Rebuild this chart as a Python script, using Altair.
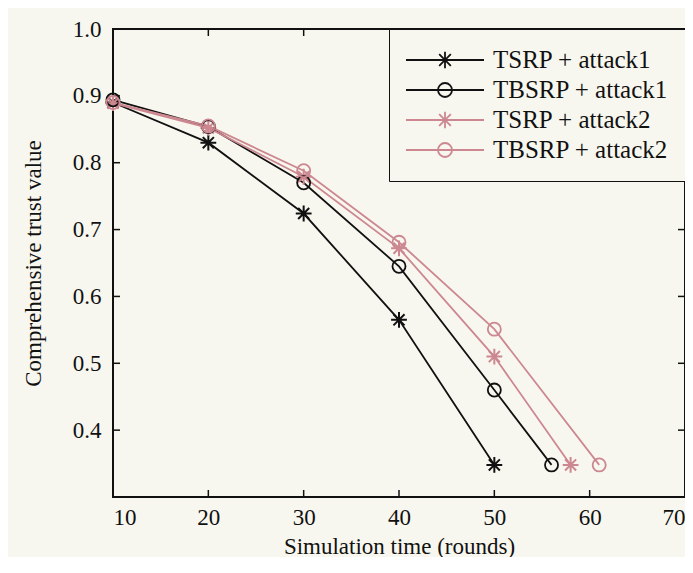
import altair as alt
import pandas as pd

# ---- data ----
series_names = ["TSRP + attack1", "TBSRP + attack1", "TSRP + attack2", "TBSRP + attack2"]
x_tsrp1 = [10, 20, 30, 40, 50]
y_tsrp1 = [0.890, 0.830, 0.724, 0.565, 0.348]
x_tbsrp1 = [10, 20, 30, 40, 50, 56]
y_tbsrp1 = [0.894, 0.854, 0.770, 0.645, 0.460, 0.348]
x_tsrp2 = [10, 20, 30, 40, 50, 58]
y_tsrp2 = [0.889, 0.852, 0.779, 0.672, 0.510, 0.348]
x_tbsrp2 = [10, 20, 30, 40, 50, 61]
y_tbsrp2 = [0.890, 0.855, 0.788, 0.681, 0.551, 0.348]
x_tick_values = [10, 20, 30, 40, 50, 60, 70]
y_tick_values = [0.4, 0.5, 0.6, 0.7, 0.8, 0.9, 1.0]
x_inner_ticks = [20, 30, 40, 50, 60]
y_inner_ticks = [0.4, 0.5, 0.6, 0.7, 0.8, 0.9]

rows = []
for name, xs, ys in zip(series_names,
                        [x_tsrp1, x_tbsrp1, x_tsrp2, x_tbsrp2],
                        [y_tsrp1, y_tbsrp1, y_tsrp2, y_tbsrp2]):
    for i, (x, y) in enumerate(zip(xs, ys)):
        rows.append({"series": name, "t": x, "v": y, "i": i,
                     "marker": "star" if name.startswith("TSRP") else "circle"})
df = pd.DataFrame(rows)

BLACK = "#111111"
PINK = "#cc8790"
colors = [BLACK, BLACK, PINK, PINK]
FONT = "Liberation Serif"
W, H = 572, 468

STAR = "M0,-1V1M-1,0H1M-0.7,-0.7L0.7,0.7M-0.7,0.7L0.7,-0.7"
LEG_STAR = "M-1,0H1M0,-0.21V0.21M-0.21,0H0.21M-0.15,-0.15L0.15,0.15M-0.15,0.15L0.15,-0.15"
LEG_CIRC = "M-1,0H1M-0.18,0A0.18,0.18,0,1,0,0.18,0A0.18,0.18,0,1,0,-0.18,0"
leg_paths = [LEG_STAR, LEG_CIRC, LEG_STAR, LEG_CIRC]

xscale = alt.Scale(domain=[10, 70], nice=False, zero=False)
yscale = alt.Scale(domain=[0.3, 1.0], nice=False, zero=False)
# colour scale for the drawn marks (domain listed in another order so that its
# hidden legend is not merged with the visible stroke/shape legend)
cscale = alt.Scale(domain=[series_names[1], series_names[0], series_names[3], series_names[2]],
                   range=colors)

xax = alt.Axis(values=x_tick_values, format="d", ticks=False, domain=False, grid=False,
               labelFontSize=23, labelColor="#111", labelPadding=9,
               titleFontSize=23, titleFontWeight="normal", titleColor="#111",
               titlePadding=6)
yax = alt.Axis(values=y_tick_values, format=".1f", ticks=False, domain=False, grid=False,
               labelFontSize=23, labelColor="#111", labelPadding=12,
               titleFontSize=23, titleFontWeight="normal", titleColor="#111",
               titlePadding=27)

base = alt.Chart(df)

lines = base.mark_line(strokeWidth=1.8).encode(
    x=alt.X("t:Q", scale=xscale, axis=xax, title="Simulation time (rounds)"),
    y=alt.Y("v:Q", scale=yscale, axis=yax, title="Comprehensive trust value"),
    color=alt.Color("series:N", scale=cscale, legend=None),
    detail="series:N",
    order="i:Q",
)

stars = base.transform_filter(alt.datum.marker == "star").mark_point(
    shape=STAR, size=250, filled=False, strokeWidth=2, opacity=1
).encode(
    x=alt.X("t:Q", scale=xscale), y=alt.Y("v:Q", scale=yscale),
    color=alt.Color("series:N", scale=cscale, legend=None),
)

circles = base.transform_filter(alt.datum.marker == "circle").mark_point(
    shape="circle", size=170, filled=False, strokeWidth=1.8, opacity=1
).encode(
    x=alt.X("t:Q", scale=xscale), y=alt.Y("v:Q", scale=yscale),
    color=alt.Color("series:N", scale=cscale, legend=None),
)

legend_layer = base.mark_point(filled=False, strokeWidth=1.8, opacity=0).encode(
    x=alt.X("t:Q", scale=xscale), y=alt.Y("v:Q", scale=yscale),
    stroke=alt.Stroke("series:N", scale=alt.Scale(domain=series_names, range=colors),
                      legend=alt.Legend(title=None, orient="top-right", offset=0,
                                        symbolSize=6084, clipHeight=30, rowPadding=0,
                                        symbolStrokeWidth=1.8, symbolOpacity=1, labelOffset=8,
                                        labelFontSize=25, labelColor="#111",
                                        labelLimit=400, padding=16,
                                        strokeColor="#111", fillColor="#f8f7ef")),
    shape=alt.Shape("series:N", scale=alt.Scale(domain=series_names, range=leg_paths)),
)

tdx = pd.DataFrame({"t": x_inner_ticks})
tdy = pd.DataFrame({"v": y_inner_ticks})
tick_b = alt.Chart(tdx).mark_rule(color="#111", strokeWidth=1.5).encode(
    x=alt.X("t:Q", scale=xscale), y=alt.value(H), y2=alt.value(H - 7))
tick_t = alt.Chart(tdx).mark_rule(color="#111", strokeWidth=1.5).encode(
    x=alt.X("t:Q", scale=xscale), y=alt.value(0), y2=alt.value(7))
tick_l = alt.Chart(tdy).mark_rule(color="#111", strokeWidth=1.5).encode(
    y=alt.Y("v:Q", scale=yscale), x=alt.value(0), x2=alt.value(7))
tick_r = alt.Chart(tdy).mark_rule(color="#111", strokeWidth=1.5).encode(
    y=alt.Y("v:Q", scale=yscale), x=alt.value(W), x2=alt.value(W - 7))

chart = alt.layer(tick_b, tick_t, tick_l, tick_r, lines, stars, circles, legend_layer).properties(
    width=W, height=H,
    autosize=alt.AutoSizeParams(type="none"),
    padding={"left": 105, "top": 21, "right": 0, "bottom": 60},
    background="#f8f7ef",
).configure(font=FONT).configure_view(stroke="#111", strokeWidth=2).configure_axis(
    labelFont=FONT, titleFont=FONT
).configure_legend(labelFont=FONT)

chart.save("out.html", embed_options={"renderer": "svg", "actions": False})
